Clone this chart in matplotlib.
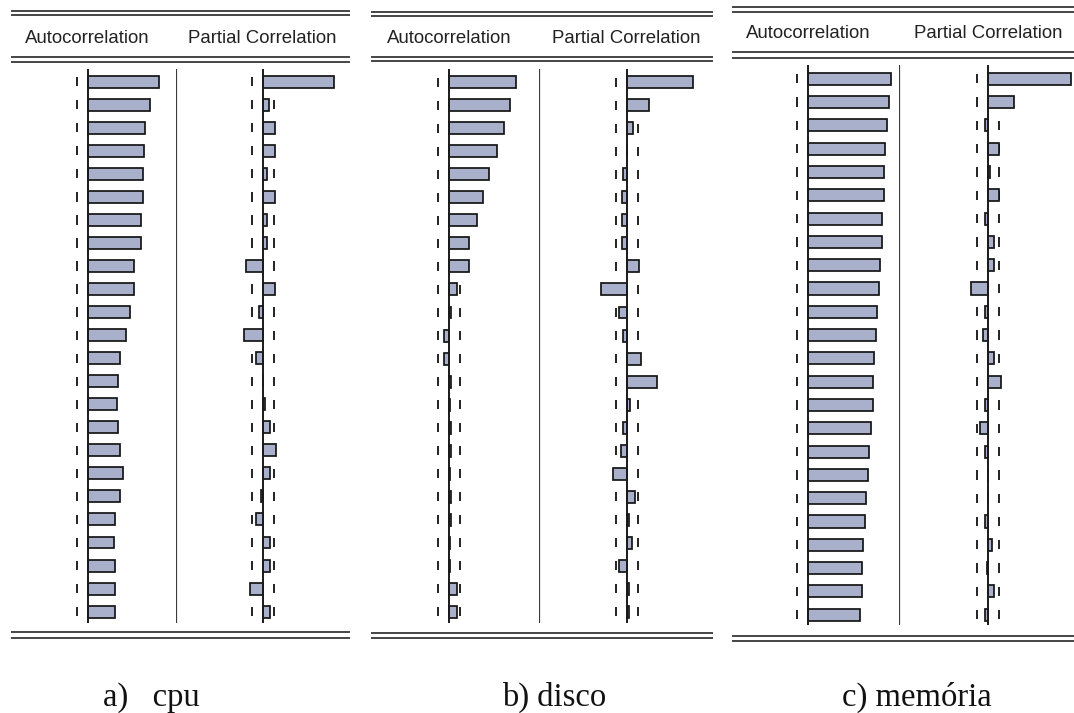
import matplotlib
matplotlib.use("Agg")
import matplotlib.pyplot as plt
from matplotlib.lines import Line2D

# ---- data -------------------------------------------------------------
lags = list(range(1, 25))

cpu_acf = [0.812, 0.711, 0.655, 0.640, 0.625, 0.625, 0.606, 0.606, 0.523, 0.523,
           0.484, 0.435, 0.364, 0.348, 0.330, 0.348, 0.364, 0.398, 0.364, 0.310,
           0.295, 0.310, 0.310, 0.310]
cpu_pacf = [0.812, 0.068, 0.140, 0.140, 0.052, 0.140, 0.052, 0.052, -0.193, 0.140,
            -0.042, -0.213, -0.076, 0.003, 0.030, 0.083, 0.155, 0.083, -0.023, -0.076,
            0.083, 0.083, -0.144, 0.083]

disco_acf = [0.758, 0.690, 0.622, 0.545, 0.458, 0.390, 0.318, 0.231, 0.231, 0.088,
             0.019, -0.057, -0.057, 0.019, 0.017, 0.020, 0.018, 0.016, 0.019, 0.018,
             0.015, 0.017, 0.088, 0.088]
disco_pacf = [0.758, 0.250, 0.076, 0.003, -0.038, -0.053, -0.053, -0.053, 0.144, -0.295,
              -0.083, -0.045, 0.163, 0.341, 0.042, -0.045, -0.068, -0.151, 0.094, 0.023,
              0.057, -0.083, 0.023, 0.023]

memoria_acf = [0.933, 0.913, 0.884, 0.862, 0.851, 0.851, 0.828, 0.828, 0.812, 0.794,
               0.775, 0.761, 0.745, 0.727, 0.727, 0.704, 0.689, 0.671, 0.655, 0.637,
               0.618, 0.603, 0.603, 0.584]
memoria_pacf = [0.933, 0.284, -0.042, 0.120, 0.019, 0.124, -0.042, 0.067, 0.067, -0.194,
                -0.042, -0.056, 0.067, 0.143, -0.042, -0.090, -0.042, 0.002, 0.002, -0.042,
                0.037, -0.019, 0.067, -0.042]

conf_bound = 0.123
col_titles = ["Autocorrelation", "Partial Correlation"]
captions = ["a)   cpu", "b) disco", "c) memória"]

# ---- layout (pixel geometry of each correlogram block) -----------------
W, H = 1074, 713
panels = [
    dict(acf=cpu_acf, pacf=cpu_pacf, left=11, right=350, sep=175.7,
         z_acf=87.7, z_pacf=262.7, scale=88.0,
         top_rule=(11.3, 15.3), head_rule=(57.3, 61.7), bot_rule=(632.0, 638.3),
         plot_top=69.0, plot_bot=622.7, row1=81.7, step=23.04, head_base=42.7,
         cap_x=151, cap=captions[0]),
    dict(acf=disco_acf, pacf=disco_pacf, left=371, right=712.7, sep=539.0,
         z_acf=449.0, z_pacf=626.7, scale=88.0,
         top_rule=(12.3, 15.7), head_rule=(57.3, 61.0), bot_rule=(633.3, 638.3),
         plot_top=69.0, plot_bot=623.3, row1=82.3, step=23.02, head_base=42.7,
         cap_x=554, cap=captions[1]),
    dict(acf=memoria_acf, pacf=memoria_pacf, left=731.7, right=1074, sep=898.7,
         z_acf=808.0, z_pacf=988.3, scale=89.0,
         top_rule=(7.3, 11.7), head_rule=(52.3, 58.3), bot_rule=(636.0, 640.7),
         plot_top=65.0, plot_bot=625.0, row1=78.8, step=23.3, head_base=38.3,
         cap_x=917, cap=captions[2]),
]

BAR_FACE = "#a9b0cc"
INK = "#1a1a1a"

plt.rcParams["font.family"] = ["Liberation Sans", "DejaVu Sans"]
fig = plt.figure(figsize=(W / 100, H / 100), dpi=100, facecolor="white")


def fx(px):
    return px / W


def fy(py):
    return 1 - py / H


def hrule(x0, x1, y):
    fig.add_artist(Line2D([fx(x0), fx(x1)], [fy(y), fy(y)], lw=1.2,
                          color="#262626", solid_capstyle="butt"))


def column(x0, x1, zero, p, values, sep_line):
    ax = fig.add_axes([fx(x0), fy(p["plot_bot"]), (x1 - x0) / W,
                       (p["plot_bot"] - p["plot_top"]) / H])
    s = p["scale"]
    ax.set_xlim((x0 - zero) / s, (x1 - zero) / s)
    row24 = p["row1"] + 23 * p["step"]
    ax.set_ylim(24 + (p["plot_bot"] - row24) / p["step"],
                1 - (p["row1"] - p["plot_top"]) / p["step"])
    ax.axis("off")
    ax.patch.set_alpha(0)
    # confidence bounds: one short dash per lag
    for b in (-conf_bound, conf_bound):
        ax.vlines([b] * len(lags), [l - 0.2 for l in lags], [l + 0.2 for l in lags],
                  color=INK, lw=1.35, zorder=1)
    ax.barh(lags, values, height=0.52, color=BAR_FACE, edgecolor="#151515",
            linewidth=1.25, zorder=3)
    ax.axvline(0, color=INK, lw=1.4, zorder=4)
    if sep_line:
        ax.axvline(ax.get_xlim()[0], color="#3c3c3c", lw=1.6, zorder=4)
    return ax


for p in panels:
    for y in p["top_rule"] + p["head_rule"] + p["bot_rule"]:
        hrule(p["left"], p["right"], y)
    column(p["left"], p["sep"], p["z_acf"], p, p["acf"], False)
    column(p["sep"], p["right"], p["z_pacf"], p, p["pacf"], True)
    for title, zx in zip(col_titles, (p["z_acf"], p["z_pacf"])):
        fig.text(fx(zx), fy(p["head_base"]), title, ha="center", va="baseline",
                 fontsize=13.4, color="#222222")
    fig.text(fx(p["cap_x"]), fy(705.5), p["cap"], ha="center", va="baseline",
             fontsize=23.5, family=["Liberation Serif", "DejaVu Serif"], color="#111111")

fig.savefig("out.png", dpi=100, facecolor="white")
